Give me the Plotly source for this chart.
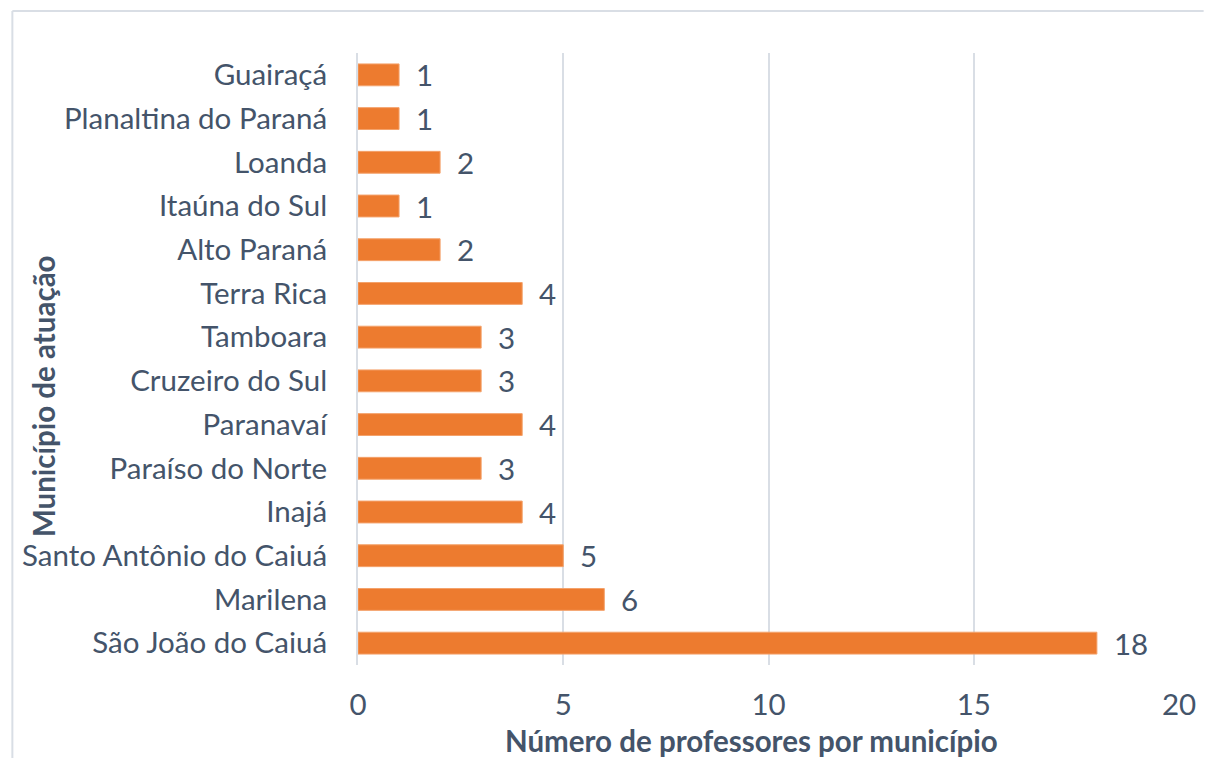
import plotly.graph_objects as go

# bottom-to-top order, as drawn on the chart
MUNICIPIOS = ['São João do Caiuá', 'Marilena', 'Santo Antônio do Caiuá', 'Inajá', 'Paraíso do Norte',
              'Paranavaí', 'Cruzeiro do Sul', 'Tamboara', 'Terra Rica', 'Alto Paraná', 'Itaúna do Sul',
              'Loanda', 'Planaltina do Paraná', 'Guairaçá']
PROFESSORES = [18, 6, 5, 4, 3, 4, 3, 3, 4, 2, 1, 2, 1, 1]
X_TICKS = [0, 5, 10, 15, 20]

TEXT = '#44546A'
GRID = '#D9DEE5'
FONT = 'Lato'
SIZE = 29.5

fig = go.Figure()
fig.add_trace(go.Bar(x=PROFESSORES, y=MUNICIPIOS, orientation='h',
                     marker=dict(color='#ED7B2F', line=dict(color='#F4A26B', width=1)),
                     width=0.5, hoverinfo='x+y'))

# data labels next to each bar
for m, v in zip(MUNICIPIOS, PROFESSORES):
    fig.add_annotation(x=v, y=m, text=str(v), showarrow=False, xanchor='left', xshift=15,
                       font=dict(family=FONT, size=SIZE, color=TEXT))

fig.add_annotation(text='<b>Número de professores por município</b>', xref='paper', yref='paper',
                   x=0.479, y=-0.124, xanchor='center', yanchor='middle', showarrow=False,
                   font=dict(family=FONT, size=SIZE, color=TEXT))
fig.add_annotation(text='<b>Município de atuação</b>', xref='paper', yref='paper', textangle=-90,
                   x=-0.3836, y=0.4395, xanchor='center', yanchor='middle', showarrow=False,
                   font=dict(family=FONT, size=SIZE, color=TEXT))

# chart border (top and left edges visible)
fig.add_shape(type='line', xref='paper', yref='paper', x0=-0.421, x1=1.03, y0=1.0686, y1=1.0686,
              line=dict(color=GRID, width=2))
fig.add_shape(type='line', xref='paper', yref='paper', x0=-0.421, x1=-0.421, y0=1.0686, y1=-0.16,
              line=dict(color=GRID, width=2))

fig.update_layout(
    width=1208, height=758,
    margin=dict(l=358, r=21, t=53, b=93),
    plot_bgcolor='white', paper_bgcolor='white',
    showlegend=False,
    font=dict(family=FONT, size=SIZE, color=TEXT),
    xaxis=dict(range=[0, 20], tickvals=X_TICKS, showgrid=True, gridcolor=GRID, gridwidth=2,
               zeroline=False, ticks='outside', ticklen=14, tickcolor='rgba(0,0,0,0)',
               ticklabeloverflow='allow', tickfont=dict(family=FONT, size=SIZE, color=TEXT)),
    yaxis=dict(showline=True, linecolor=GRID, linewidth=2, ticks='outside', ticklen=23,
               tickcolor='rgba(0,0,0,0)', tickfont=dict(family=FONT, size=SIZE, color=TEXT),
               range=[-0.5, 13.5]),
)

# drop the default page margin so the figure fills the window exactly
fig.write_html('out.html', config={'displayModeBar': False},
               post_script="document.body.style.margin='0';")
